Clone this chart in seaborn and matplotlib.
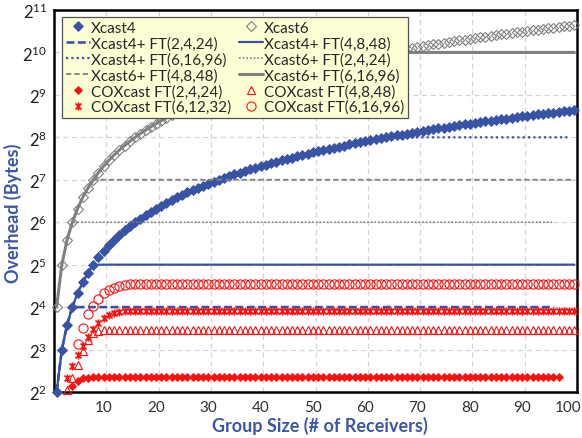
import matplotlib
matplotlib.use('Agg')
import matplotlib.pyplot as plt
from matplotlib.path import Path
from matplotlib.ticker import NullLocator
import seaborn as sns

sns.set_theme(style='white')
plt.rcParams['font.family'] = ['Lato', 'DejaVu Sans']
plt.rcParams['mathtext.fontset'] = 'custom'
plt.rcParams['mathtext.rm'] = 'Lato'
plt.rcParams['mathtext.it'] = 'Lato:italic'
plt.rcParams['mathtext.bf'] = 'Lato:bold'

# ---------------- data ----------------
group_size = list(range(1, 101))

xcast4 = [4, 8, 12, 16, 20, 24, 28, 32, 36, 40,
          44, 48, 52, 56, 60, 64, 68, 72, 76, 80,
          84, 88, 92, 96, 100, 104, 108, 112, 116, 120,
          124, 128, 132, 136, 140, 144, 148, 152, 156, 160,
          164, 168, 172, 176, 180, 184, 188, 192, 196, 200,
          204, 208, 212, 216, 220, 224, 228, 232, 236, 240,
          244, 248, 252, 256, 260, 264, 268, 272, 276, 280,
          284, 288, 292, 296, 300, 304, 308, 312, 316, 320,
          324, 328, 332, 336, 340, 344, 348, 352, 356, 360,
          364, 368, 372, 376, 380, 384, 388, 392, 396, 400]

xcast6 = [16, 32, 48, 64, 80, 96, 112, 128, 144, 160,
          176, 192, 208, 224, 240, 256, 272, 288, 304, 320,
          336, 352, 368, 384, 400, 416, 432, 448, 464, 480,
          496, 512, 528, 544, 560, 576, 592, 608, 624, 640,
          656, 672, 688, 704, 720, 736, 752, 768, 784, 800,
          816, 832, 848, 864, 880, 896, 912, 928, 944, 960,
          976, 992, 1008, 1024, 1040, 1056, 1072, 1088, 1104, 1120,
          1136, 1152, 1168, 1184, 1200, 1216, 1232, 1248, 1264, 1280,
          1296, 1312, 1328, 1344, 1360, 1376, 1392, 1408, 1424, 1440,
          1456, 1472, 1488, 1504, 1520, 1536, 1552, 1568, 1584, 1600]

# fault-tolerance variants: follow the base curve up to a knee, then flat at cap
ft_names = ['FT(2,4,24)', 'FT(4,8,48)', 'FT(6,16,96)']
x4_ft_knee = [4, 8, 64]
x4_ft_cap = [16, 32, 256]
x4_ft_end = [96, 100, 99]
x6_ft_knee = [4, 8, 64]
x6_ft_cap = [64, 128, 1024]
x6_ft_end = [96, 100, 100]

# COXcast series (start group size, values)
cox_241_start = 4
cox_241 = [4.4, 4.8, 5.0, 5.05] + [5.1] * 90
cox_4848_start = 3
cox_4848 = [4.1, 5.0, 6.2, 7.8, 9.3, 10.4, 10.9, 11.0] + [11.1] * 90
cox_61232_start = 3
cox_61232 = [5.0, 6.1, 7.3, 8.5, 9.8, 11.2, 12.4, 13.4, 14.1, 14.5,
             14.8, 14.9, 15.0] + [15.1] * 85
cox_61696_start = 5
cox_61696 = [8.7, 11.3, 14.2, 16.4, 18.4, 20.0, 21.0, 22.0, 22.6, 23.0,
             23.3, 23.4] + [23.5] * 84

x_tick_labels = ['10', '20', '30', '40', '50', '60', '70', '80', '90', '100']
x_tick_pos = [10, 20, 30, 40, 50, 60, 70, 80, 90, 98.8]
y_exponents = list(range(2, 12))

# ---------------- styling ----------------
BLUE = '#3953A4'
LABEL_BLUE = '#3A56A6'
GRAY = '#808080'
RED = '#FF1010'

fig = plt.figure(figsize=(5.82, 4.39), dpi=100)
ax = fig.add_axes([54 / 582, 1 - 393 / 439, 523 / 582, 382 / 439])
ax.set_yscale('log', base=2)

handles = {}


def add(key, x, y, **kw):
    sns.lineplot(x=x, y=y, ax=ax, legend=False, **kw)
    handles[key] = ax.lines[-1]


star = Path([(0, -1), (0, 1), (-0.75, -0.75), (0.75, 0.75), (-0.75, 0.75), (0.75, -0.75)],
            [Path.MOVETO, Path.LINETO] * 3)

# base series
add('Xcast4', group_size, xcast4, color=BLUE, linestyle='', marker='D', markersize=4.8,
    markeredgecolor=BLUE, markeredgewidth=0.6, clip_on=False, zorder=4)
add('Xcast6', group_size, xcast6, color=GRAY, linestyle='', marker='D', markersize=4.8,
    markerfacecolor='none', markeredgecolor=GRAY, markeredgewidth=0.8, clip_on=False, zorder=4)

x4_styles = [dict(linestyle=(0, (3, 1.3)), linewidth=1.9),
             dict(linestyle='-', linewidth=1.6),
             dict(linestyle=(0, (1, 1.4)), linewidth=1.6)]
x6_styles = [dict(linestyle=(0, (1, 1.2)), linewidth=1.2),
             dict(linestyle=(0, (3, 1.6)), linewidth=1.3),
             dict(linestyle='-', linewidth=2.2)]

for name, knee, cap, end, st in zip(ft_names, x4_ft_knee, x4_ft_cap, x4_ft_end, x4_styles):
    xs = group_size[:knee] + [end]
    ys = xcast4[:knee] + [cap]
    add('Xcast4+ ' + name, xs, ys, color=BLUE, zorder=4, **st)

for name, knee, cap, end, st in zip(ft_names, x6_ft_knee, x6_ft_cap, x6_ft_end, x6_styles):
    xs = group_size[:knee] + [end]
    ys = xcast6[:knee] + [cap]
    add('Xcast6+ ' + name, xs, ys, color=GRAY, zorder=4, **st)


def span(start, vals):
    return list(range(start, start + len(vals)))


add('COXcast FT(2,4,24)', span(cox_241_start, cox_241), cox_241, color=RED, linestyle='',
    marker='D', markersize=4.2, markeredgecolor=RED, markeredgewidth=0.6, clip_on=False, zorder=5)
add('COXcast FT(4,8,48)', span(cox_4848_start, cox_4848), cox_4848, color=RED, linestyle='',
    marker='^', markersize=6.4, markerfacecolor='none', markeredgecolor=RED,
    markeredgewidth=0.8, clip_on=False, zorder=5)
add('COXcast FT(6,12,32)', span(cox_61232_start, cox_61232), cox_61232, color=RED, linestyle='',
    marker=star, markersize=5.8, markerfacecolor='none', markeredgecolor=RED,
    markeredgewidth=1.2, clip_on=False, zorder=5)
add('COXcast FT(6,16,96)', span(cox_61696_start, cox_61696), cox_61696, color=RED, linestyle='',
    marker='o', markersize=6.6, markerfacecolor='none', markeredgecolor=RED,
    markeredgewidth=0.8, clip_on=False, zorder=5)

# ---------------- axes ----------------
ax.set_xlim(0.5, 100.5)
ax.set_ylim(4, 2048)
ax.set_yticks([2 ** k for k in y_exponents])
ax.set_yticklabels([f'$2^{{{k}}}$' for k in y_exponents], fontsize=12, color='#202020')
ax.yaxis.set_minor_locator(NullLocator())
ax.set_xticks(x_tick_pos)
ax.set_xticklabels(x_tick_labels, fontsize=11, color='#303030')
ax.set_xticks([10.5 + 10 * i for i in range(9)], minor=True)
ax.tick_params(which='both', length=0)
ax.tick_params(axis='x', pad=6)
ax.tick_params(axis='y', pad=5)

ax.grid(axis='y', which='major', color='#D4D4D4', linestyle=(0, (4, 3)), linewidth=0.9)
ax.grid(axis='x', which='minor', color='#D4D4D4', linestyle=(0, (4, 3)), linewidth=0.9)
ax.grid(axis='x', which='major', visible=False)

for sp in ax.spines.values():
    sp.set_color('black')
    sp.set_linewidth(1.8)

ax.set_xlabel('Group Size (# of Receivers)', fontsize=13, fontweight='bold', color=LABEL_BLUE)
ax.set_ylabel('Overhead (Bytes)', fontsize=13, fontweight='bold', color=LABEL_BLUE)
ax.xaxis.set_label_coords(0.508, -0.062)
ax.yaxis.set_label_coords(-0.062, 0.47)

order = ['Xcast4', 'Xcast4+ FT(2,4,24)', 'Xcast4+ FT(6,16,96)', 'Xcast6+ FT(4,8,48)',
         'COXcast FT(2,4,24)', 'COXcast FT(6,12,32)',
         'Xcast6', 'Xcast4+ FT(4,8,48)', 'Xcast6+ FT(2,4,24)', 'Xcast6+ FT(6,16,96)',
         'COXcast FT(4,8,48)', 'COXcast FT(6,16,96)']
leg = ax.legend([handles[k] for k in order], order, ncol=2, loc='upper left',
                bbox_to_anchor=(8 / 523, (393 - 18) / 382), frameon=True, fancybox=False,
                fontsize=11, handlelength=1.55, handletextpad=0.08, columnspacing=0.55,
                labelspacing=0.1, borderpad=0.25, borderaxespad=0, numpoints=1)
fr = leg.get_frame()
fr.set_facecolor('#FFFFD6')
fr.set_edgecolor('#505050')
fr.set_linewidth(0.9)
fr.set_alpha(1)
leg.set_zorder(10)

fig.savefig('out.png', dpi=100)
